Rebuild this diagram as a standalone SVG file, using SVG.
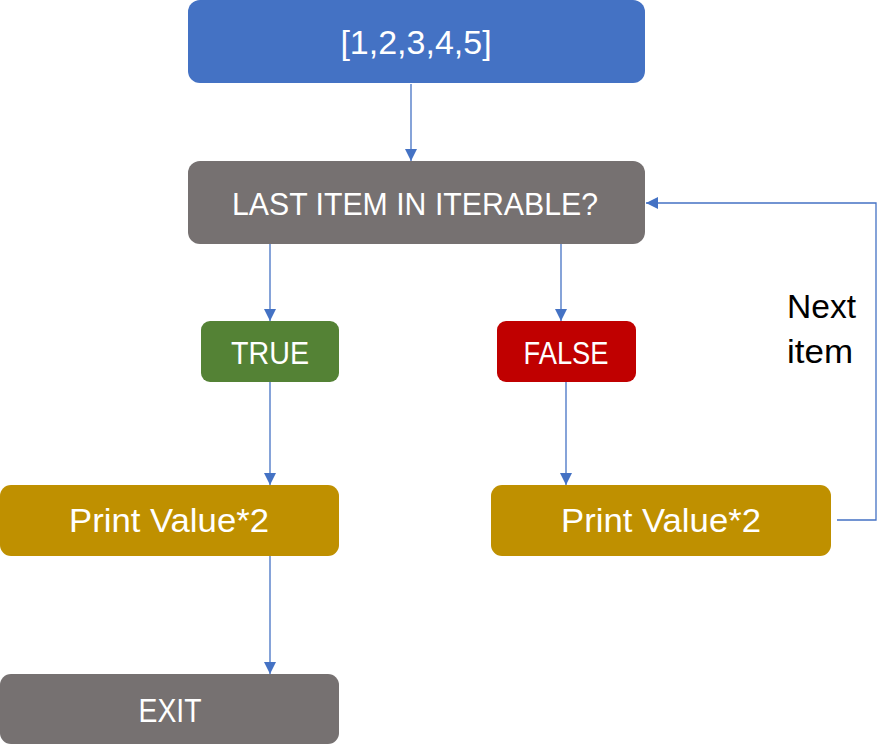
<svg xmlns="http://www.w3.org/2000/svg" width="888" height="755" viewBox="0 0 888 755">
<defs>
<marker id="arr" markerWidth="12" markerHeight="12" refX="12" refY="6" orient="auto" markerUnits="userSpaceOnUse">
<path d="M0,0 L12,6 L0,12 Z" fill="#4472C4"/>
</marker>
<style>
.lbl{font-family:"Liberation Sans",Arial,sans-serif;fill:#FFFFFF;text-anchor:middle}
.con{fill:none;stroke:#4472C4;stroke-width:1.3}
.nx{font-family:"Liberation Sans",Arial,sans-serif;fill:#000000;font-size:33px}
</style>
</defs>
<rect width="888" height="755" fill="#FFFFFF"/>
<g id="connectors">
<path class="con" d="M411,84 L411,161" marker-end="url(#arr)"/>
<path class="con" d="M270,244 L270,321" marker-end="url(#arr)"/>
<path class="con" d="M561,244 L561,321" marker-end="url(#arr)"/>
<path class="con" d="M270,382 L270,485" marker-end="url(#arr)"/>
<path class="con" d="M566,382 L566,485" marker-end="url(#arr)"/>
<path class="con" d="M270,556 L270,674" marker-end="url(#arr)"/>
<path class="con" d="M837,520 L876,520 L876,203 L646,203" marker-end="url(#arr)"/>
</g>
<g id="list">
<rect x="188" y="0" width="457" height="83" rx="12" fill="#4472C4"/>
<text class="lbl" x="416" y="54" font-size="34">[1,2,3,4,5]</text>
</g>
<g id="check">
<rect x="188" y="161" width="457" height="83" rx="12" fill="#767171"/>
<text class="lbl" x="415" y="215" font-size="31" textLength="366" lengthAdjust="spacingAndGlyphs">LAST ITEM IN ITERABLE?</text>
</g>
<g id="true">
<rect x="201" y="321" width="138" height="61" rx="9" fill="#548235"/>
<text class="lbl" x="270" y="364" font-size="32" textLength="78" lengthAdjust="spacingAndGlyphs">TRUE</text>
</g>
<g id="false">
<rect x="497" y="321" width="139" height="61" rx="9" fill="#C00000"/>
<text class="lbl" x="566" y="364" font-size="32" textLength="85" lengthAdjust="spacingAndGlyphs">FALSE</text>
</g>
<g id="print-left">
<rect x="0" y="485" width="339" height="71" rx="11" fill="#BF9000"/>
<text class="lbl" x="169" y="532" font-size="34" textLength="200" lengthAdjust="spacingAndGlyphs">Print Value*2</text>
</g>
<g id="print-right">
<rect x="491" y="485" width="340" height="71" rx="11" fill="#BF9000"/>
<text class="lbl" x="661" y="532" font-size="34" textLength="200" lengthAdjust="spacingAndGlyphs">Print Value*2</text>
</g>
<g id="exit">
<rect x="0" y="674" width="339" height="70" rx="11" fill="#767171"/>
<text class="lbl" x="170" y="722" font-size="33" textLength="63" lengthAdjust="spacingAndGlyphs">EXIT</text>
</g>
<g id="next-label">
<text class="nx" x="787" y="318" textLength="69" lengthAdjust="spacingAndGlyphs">Next</text>
<text class="nx" x="787" y="363" textLength="66" lengthAdjust="spacingAndGlyphs">item</text>
</g>
</svg>
